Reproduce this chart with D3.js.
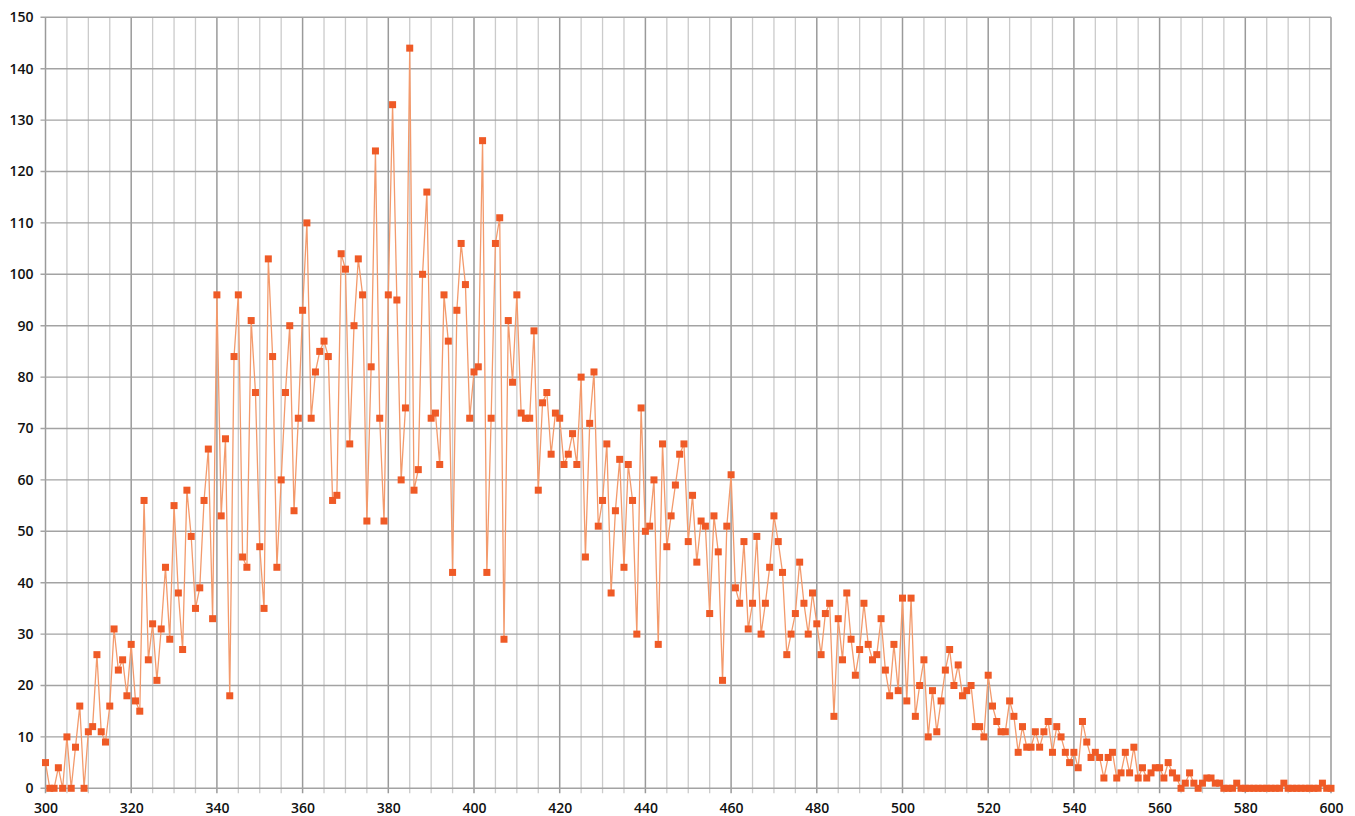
<!DOCTYPE html>
<html>
<head>
<meta charset="utf-8">
<script src="https://cdn.jsdelivr.net/npm/d3@7"></script>
<style>
  body { margin: 0; background: #fff; }
  .tick text { font-family: "Open Sans", sans-serif; font-size: 14px; font-weight: 600; fill: #111; }
</style>
</head>
<body>
<div id="chart"></div>
<script>
// x values 300..600, one count per step
var xStart = 300;
var counts = [
  5, 0, 0, 4, 0, 10, 0, 8, 16, 0,
  11, 12, 26, 11, 9, 16, 31, 23, 25, 18,
  28, 17, 15, 56, 25, 32, 21, 31, 43, 29,
  55, 38, 27, 58, 49, 35, 39, 56, 66, 33,
  96, 53, 68, 18, 84, 96, 45, 43, 91, 77,
  47, 35, 103, 84, 43, 60, 77, 90, 54, 72,
  93, 110, 72, 81, 85, 87, 84, 56, 57, 104,
  101, 67, 90, 103, 96, 52, 82, 124, 72, 52,
  96, 133, 95, 60, 74, 144, 58, 62, 100, 116,
  72, 73, 63, 96, 87, 42, 93, 106, 98, 72,
  81, 82, 126, 42, 72, 106, 111, 29, 91, 79,
  96, 73, 72, 72, 89, 58, 75, 77, 65, 73,
  72, 63, 65, 69, 63, 80, 45, 71, 81, 51,
  56, 67, 38, 54, 64, 43, 63, 56, 30, 74,
  50, 51, 60, 28, 67, 47, 53, 59, 65, 67,
  48, 57, 44, 52, 51, 34, 53, 46, 21, 51,
  61, 39, 36, 48, 31, 36, 49, 30, 36, 43,
  53, 48, 42, 26, 30, 34, 44, 36, 30, 38,
  32, 26, 34, 36, 14, 33, 25, 38, 29, 22,
  27, 36, 28, 25, 26, 33, 23, 18, 28, 19,
  37, 17, 37, 14, 20, 25, 10, 19, 11, 17,
  23, 27, 20, 24, 18, 19, 20, 12, 12, 10,
  22, 16, 13, 11, 11, 17, 14, 7, 12, 8,
  8, 11, 8, 11, 13, 7, 12, 10, 7, 5,
  7, 4, 13, 9, 6, 7, 6, 2, 6, 7,
  2, 3, 7, 3, 8, 2, 4, 2, 3, 4,
  4, 2, 5, 3, 2, 0, 1, 3, 1, 0,
  1, 2, 2, 1, 1, 0, 0, 0, 1, 0,
  0, 0, 0, 0, 0, 0, 0, 0, 0, 1,
  0, 0, 0, 0, 0, 0, 0, 0, 1, 0,
  0
];
var xTicks = [300, 320, 340, 360, 380, 400, 420, 440, 460, 480, 500, 520, 540, 560, 580, 600];
var yTicks = [0, 10, 20, 30, 40, 50, 60, 70, 80, 90, 100, 110, 120, 130, 140, 150];

var width = 1355, height = 816;
var data = counts.map(function(d, i) { return { x: xStart + i, y: d }; });

var svg = d3.select("#chart").append("svg")
    .attr("width", width)
    .attr("height", height);

var x = d3.scaleLinear().domain([300, 600]).range([45.5, 1331]);
var y = d3.scaleLinear().domain([0, 150]).range([788.3, 17.3]);

// vertical grid every 5, darker every 20
var minor = d3.range(300, 601, 5);
svg.append("g").selectAll("line")
    .data(minor)
    .enter().append("line")
    .attr("x1", function(d) { return x(d); })
    .attr("x2", function(d) { return x(d); })
    .attr("y1", y(150))
    .attr("y2", y(0) + 5)
    .attr("stroke", function(d) { return d % 20 == 0 ? "#9a9a9a" : "#cbcbcb"; })
    .attr("stroke-width", function(d) { return d % 20 == 0 ? 1.5 : 1.3; });

// horizontal grid
svg.append("g").selectAll("line")
    .data(yTicks)
    .enter().append("line")
    .attr("x1", x(300) - 5)
    .attr("x2", x(600))
    .attr("y1", function(d) { return y(d); })
    .attr("y2", function(d) { return y(d); })
    .attr("stroke", "#a3a3a3")
    .attr("stroke-width", 1.4);

// axis labels
var yAxis = svg.append("g")
    .attr("transform", "translate(" + (x(300) - 6) + ",0)")
    .call(d3.axisLeft(y).tickValues(yTicks).tickSize(0).tickPadding(6));
yAxis.select(".domain").remove();

var xAxis = svg.append("g")
    .attr("transform", "translate(0," + (y(0) + 9) + ")")
    .call(d3.axisBottom(x).tickValues(xTicks).tickSize(0).tickPadding(6).tickFormat(d3.format("d")));
xAxis.select(".domain").remove();

// series line
var line = d3.line()
    .x(function(d) { return x(d.x); })
    .y(function(d) { return y(d.y); });

svg.append("path")
    .datum(data)
    .attr("d", line)
    .attr("fill", "none")
    .attr("stroke", "#f39a6c")
    .attr("stroke-width", 1.3);

svg.append("g").selectAll("rect")
    .data(data)
    .enter().append("rect")
    .attr("x", function(d) { return x(d.x) - 3.5; })
    .attr("y", function(d) { return y(d.y) - 3.5; })
    .attr("width", 7)
    .attr("height", 7)
    .attr("fill", "#ef5a26");
</script>
</body>
</html>
